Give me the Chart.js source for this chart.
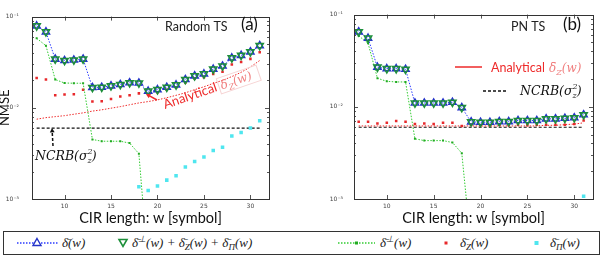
<!DOCTYPE html>
<html>
<head>
<meta charset="utf-8">
<script src="https://cdn.jsdelivr.net/npm/chart.js@4.4.1/dist/chart.umd.min.js"></script>
<style>
  body { margin: 0; background: #fff; }
  #wrap { position: relative; width: 603px; height: 256px; overflow: hidden; }
  canvas { position: absolute; top: 0; }
  #left { left: 0; }
  #right { left: 300px; }
  #legend { position: absolute; left: 0; top: 226px; }
  #legend text { font-family: "Liberation Serif", serif; font-size: 13px; font-style: italic; fill: #222; }
</style>
</head>
<body>
<div id="wrap">
  <canvas id="left" width="300" height="226"></canvas>
  <canvas id="right" width="303" height="226"></canvas>
  <svg id="legend" width="603" height="30">
    <rect x="3.5" y="5.5" width="596" height="23" fill="none" stroke="#333" stroke-width="1"/>
    <line x1="17" y1="17" x2="58" y2="17" stroke="#2b3bff" stroke-width="1.5" stroke-dasharray="1.5 1.5"/>
    <polygon points="37,12.5 41,19.5 33,19.5" fill="#fff" stroke="#2433c8" stroke-width="1.4"/>
    <text x="62" y="21">δ̄(w)</text>
    <polygon points="119,13.5 127,13.5 123,20.5" fill="none" stroke="#1d8f3a" stroke-width="1.6"/>
    <text x="132" y="21">δ̄<tspan dy="-5" font-size="9">⊥</tspan><tspan dy="5">(w) + δ̄</tspan><tspan dy="3" font-size="9">Z</tspan><tspan dy="-3">(w) + δ̄</tspan><tspan dy="3" font-size="9">Π</tspan><tspan dy="-3">(w)</tspan></text>
    <line x1="338" y1="17" x2="375" y2="17" stroke="#33cc33" stroke-width="1.5" stroke-dasharray="1.5 1.5"/>
    <rect x="355" y="15.5" width="3" height="3" fill="#22aa22"/>
    <text x="380" y="21">δ̄<tspan dy="-5" font-size="9">⊥</tspan><tspan dy="5">(w)</tspan></text>
    <rect x="444.5" y="15.5" width="3" height="3" fill="#e8282b"/>
    <text x="460" y="21">δ̄<tspan dy="3" font-size="9">Z</tspan><tspan dy="-3">(w)</tspan></text>
    <rect x="534.5" y="15" width="4" height="4" fill="#4fe6ef"/>
    <text x="550" y="21">δ̄<tspan dy="3" font-size="9">Π</tspan><tspan dy="-3">(w)</tspan></text>
  </svg>
</div>
<script>
// CIR length (symbols)
const cirLength = [7, 8, 9, 10, 11, 12, 13, 14, 15, 16, 17, 18, 19, 20, 21, 22, 23, 24, 25, 26, 27, 28, 29, 30, 31];
const xTicks = [10, 15, 20, 25, 30];
const yTicks = [0.001, 0.01, 0.1];
const yTickText = ['10⁻³', '10⁻²', '10⁻¹'];

// (a) Random TS
const totalRandom = [0.079, 0.068, 0.0342, 0.033, 0.0334, 0.0342, 0.0167, 0.0168, 0.0174, 0.018, 0.0188, 0.0187, 0.0152, 0.0158, 0.0168, 0.0178, 0.0204, 0.0224, 0.0235, 0.0265, 0.0287, 0.0352, 0.0376, 0.041, 0.048];
const sumRandom = [0.079, 0.068, 0.0342, 0.033, 0.0334, 0.0342, 0.0167, 0.0168, 0.0174, 0.018, 0.0188, 0.0187, 0.0152, 0.0158, 0.0168, 0.0178, 0.0204, 0.0224, 0.0235, 0.0265, 0.0287, 0.0352, 0.0376, 0.041, 0.048];
const perpRandom = [0.0578, 0.048, 0.0204, 0.0187, 0.0186, 0.0186, 0.0045, 0.0043, 0.0043, 0.0043, 0.0041, 0.00314, 0.00018, null, null, null, null, null, null, null, null, null, null, null, null];
const zRandom = [0.0212, 0.0204, 0.0137, 0.014, 0.0141, 0.0158, 0.0117, 0.0118, 0.0125, 0.0133, 0.0137, 0.0144, 0.014, 0.0148, 0.0158, 0.0167, 0.019, 0.021, 0.0217, 0.0235, 0.0249, 0.0298, 0.0318, 0.0344, 0.0407];
const piRandom = [null, null, null, null, null, null, null, null, null, null, null, 0.00136, 0.00124, 0.00139, 0.00161, 0.0018, 0.00224, 0.00258, 0.00288, 0.0034, 0.0037, 0.0049, 0.00535, 0.006, 0.0072];
const anaRandom = [0.0075, 0.0078, 0.008, 0.0082, 0.0085, 0.0088, 0.0092, 0.0095, 0.0099, 0.0103, 0.0108, 0.0113, 0.0117, 0.0122, 0.0129, 0.0137, 0.0146, 0.0158, 0.017, 0.0185, 0.02, 0.022, 0.0245, 0.028, 0.033];

// (b) PN TS
const totalPN = [0.065, 0.0555, 0.0269, 0.0259, 0.0259, 0.0255, 0.011, 0.011, 0.011, 0.011, 0.0112, 0.0098, 0.00686, 0.0068, 0.0068, 0.0069, 0.0069, 0.0071, 0.0071, 0.0071, 0.0074, 0.0074, 0.0075, 0.0076, 0.0082];
const sumPN = [0.065, 0.0555, 0.0269, 0.0259, 0.0259, 0.0255, 0.011, 0.011, 0.011, 0.011, 0.0112, 0.0098, 0.00686, 0.0068, 0.0068, 0.0069, 0.0069, 0.0071, 0.0071, 0.0071, 0.0074, 0.0074, 0.0075, 0.0076, 0.0082];
const perpPN = [0.0588, 0.049, 0.0204, 0.0189, 0.0186, 0.0186, 0.0045, 0.0043, 0.0043, 0.0043, 0.0041, 0.00314, 0.0003, null, null, null, null, null, null, null, null, null, null, null, null];
const zPN = [0.0069, 0.0069, 0.0066, 0.0067, 0.007, 0.0069, 0.0065, 0.0066, 0.0065, 0.0067, 0.0067, 0.0062, 0.0064, 0.0063, 0.0063, 0.0064, 0.0063, 0.0064, 0.0063, 0.0064, 0.0064, 0.0064, 0.0064, 0.0065, 0.0071];
const piPN = [null, null, null, null, null, null, null, null, null, null, null, null, null, null, null, null, null, null, null, null, null, null, null, null, 0.00107];
const anaPN = [0.0062, 0.0062, 0.0062, 0.0062, 0.0062, 0.0062, 0.0062, 0.0062, 0.0062, 0.0062, 0.0062, 0.0062, 0.0062, 0.0062, 0.0062, 0.0062, 0.0062, 0.0062, 0.0062, 0.0062, 0.0063, 0.0063, 0.0064, 0.0065, 0.0067];

// NCRB(sigma_z^2) bound, both panels
const ncrbX = [7, 31];
const ncrbY = [0.006, 0.006];

const RED = '#ee2a2a';
const PINK = '#f08080';
const SERIF = '"DejaVu Serif", serif';

function pts(ys) { return cirLength.map((w, i) => ({ x: w, y: ys[i] })); }

function buildDatasets(total, sum, perp, z, pi, ana) {
  return [
    { data: pts(sum), showLine: false, pointStyle: 'triangle', pointRotation: 180, pointRadius: 4.2,
      pointBorderColor: '#1d8f3a', pointBorderWidth: 1.5, pointBackgroundColor: 'rgba(0,0,0,0)' },
    { data: pts(total), borderColor: '#2b3bff', borderWidth: 1, borderDash: [1.5, 1.5],
      pointStyle: 'triangle', pointRadius: 4.2, pointBorderColor: '#2433c8', pointBorderWidth: 1.4,
      pointBackgroundColor: 'rgba(0,0,0,0)' },
    { data: pts(perp), borderColor: '#33cc33', borderWidth: 1, borderDash: [1.5, 1.5],
      pointStyle: 'rect', pointRadius: 1.4, pointBackgroundColor: '#22aa22', pointBorderWidth: 0 },
    { data: pts(z), showLine: false, pointStyle: 'rect', pointRadius: 1.8,
      pointBackgroundColor: '#e8282b', pointBorderWidth: 0 },
    { data: pts(pi), showLine: false, pointStyle: 'rect', pointRadius: 2.5,
      pointBackgroundColor: '#4fe6ef', pointBorderWidth: 0 },
    { data: pts(ana), borderColor: RED, borderWidth: 1, borderDash: [1.5, 1.5], pointRadius: 0 },
    { data: ncrbX.map((w, i) => ({ x: w, y: ncrbY[i] })), borderColor: '#111', borderWidth: 1.2,
      borderDash: [3, 2], pointRadius: 0 }
  ];
}

// draw text runs, returns end x
function runs(ctx, x, y, parts) {
  parts.forEach(p => {
    ctx.font = p.f;
    ctx.fillStyle = p.c;
    ctx.fillText(p.t, x, y + (p.dy || 0));
    if (!p.keep) x += ctx.measureText(p.t).width;
  });
  return x;
}

function deltaZ(ctx, x, y, size, color) {
  const f = `italic ${size}px ${SERIF}`, fs = `italic ${Math.round(size * 0.65)}px ${SERIF}`;
  return runs(ctx, x, y, [
    { t: 'δ̄', f, c: color }, { t: 'Z', f: fs, c: color, dy: 3 }, { t: '(w)', f, c: color }
  ]);
}

function ncrb(ctx, x, y, size) {
  const f = `italic ${size}px ${SERIF}`, fs = `italic ${Math.round(size * 0.62)}px ${SERIF}`;
  return runs(ctx, x, y, [
    { t: 'NCRB(σ', f, c: '#111' }, { t: '2', f: fs, c: '#111', dy: -6, keep: true },
    { t: 'z', f: fs, c: '#111', dy: 3 }, { t: ')', f, c: '#111' }
  ]);
}

function arrow(ctx, x1, y1, x2, y2, color, dash) {
  const a = Math.atan2(y2 - y1, x2 - x1), h = 5;
  ctx.save();
  ctx.strokeStyle = color; ctx.fillStyle = color; ctx.lineWidth = 1.5;
  ctx.setLineDash(dash || []);
  ctx.beginPath(); ctx.moveTo(x1, y1); ctx.lineTo(x2 - Math.cos(a) * 3, y2 - Math.sin(a) * 3); ctx.stroke();
  ctx.setLineDash([]);
  ctx.beginPath();
  ctx.moveTo(x2, y2);
  ctx.lineTo(x2 - h * Math.cos(a - 0.5), y2 - h * Math.sin(a - 0.5));
  ctx.lineTo(x2 - h * Math.cos(a + 0.5), y2 - h * Math.sin(a + 0.5));
  ctx.closePath(); ctx.fill();
  ctx.restore();
}

const notes = {
  left(ctx) {
    runs(ctx, 165, 30.5, [{ t: 'Random TS', f: '12.5px Lato', c: '#222' }]);
    runs(ctx, 241, 30, [{ t: '(a)', f: '17px Lato', c: '#111' }]);
    ctx.save();
    ctx.translate(165, 109);
    ctx.rotate(-0.33);
    let x = runs(ctx, 0, 0, [{ t: 'Analytical ', f: '13px Lato', c: RED }]);
    ctx.strokeStyle = '#f6d4d4'; ctx.lineWidth = 1;
    ctx.strokeRect(x - 1, -12, 42, 16);
    deltaZ(ctx, x + 1, 0, 12, PINK);
    ctx.restore();
    arrow(ctx, 157, 100, 146, 94, RED);
    ncrb(ctx, 35, 160, 12.5);
    arrow(ctx, 53, 146, 52, 128, '#111', [3, 2]);
  },
  right(ctx) {
    runs(ctx, 211, 30.5, [{ t: 'PN TS', f: '12.5px Lato', c: '#222' }]);
    runs(ctx, 263, 30, [{ t: '(b)', f: '17px Lato', c: '#111' }]);
    ctx.save();
    ctx.strokeStyle = RED; ctx.lineWidth = 1.5;
    ctx.beginPath(); ctx.moveTo(155, 67); ctx.lineTo(182, 67); ctx.stroke();
    ctx.strokeStyle = '#111'; ctx.lineWidth = 1.3; ctx.setLineDash([3, 2]);
    ctx.beginPath(); ctx.moveTo(183, 91); ctx.lineTo(208, 91); ctx.stroke();
    ctx.restore();
    const x = runs(ctx, 191, 71.5, [{ t: 'Analytical ', f: '12.5px Lato', c: RED }]);
    deltaZ(ctx, x + 1, 71.5, 12, PINK);
    ncrb(ctx, 220, 95, 12.5);
  }
};

// MATLAB-like box with inward ticks, plus panel annotations
const frame = {
  id: 'frame',
  afterDatasetsDraw(chart) {
    const { ctx, chartArea: a, scales: { x, y } } = chart;
    ctx.save();
    ctx.strokeStyle = '#555';
    ctx.lineWidth = 1;
    ctx.beginPath();
    xTicks.forEach(v => {
      const px = Math.round(x.getPixelForValue(v)) + 0.5;
      ctx.moveTo(px, a.bottom); ctx.lineTo(px, a.bottom - 4);
      ctx.moveTo(px, a.top); ctx.lineTo(px, a.top + 4);
    });
    [0.001, 0.01].forEach(d => {
      for (let m = 1; m <= 10; m++) {
        const py = Math.round(y.getPixelForValue(m * d)) + 0.5;
        const len = (m === 1 || m === 10) ? 4 : 2;
        ctx.moveTo(a.left, py); ctx.lineTo(a.left + len, py);
        ctx.moveTo(a.right, py); ctx.lineTo(a.right - len, py);
      }
    });
    ctx.stroke();
    ctx.strokeStyle = '#333';
    ctx.strokeRect(Math.round(a.left) + 0.5, Math.round(a.top) + 0.5,
      Math.round(a.right - a.left), Math.round(a.bottom - a.top));
    ctx.restore();
    notes[chart.canvas.id](ctx);
  }
};

function makeChart(id, sets, yWidth, yPad, padRight, withTitle) {
  new Chart(document.getElementById(id), {
    type: 'line',
    data: { datasets: sets },
    plugins: [frame],
    options: {
      responsive: false,
      animation: false,
      events: [],
      layout: { padding: { left: 0, top: 6, right: padRight, bottom: 0 } },
      plugins: { legend: { display: false }, tooltip: { enabled: false } },
      elements: { line: { tension: 0 } },
      scales: {
        x: {
          type: 'linear', min: 6.5, max: 32,
          grid: { display: false, drawTicks: false }, border: { display: false },
          afterBuildTicks: s => { s.ticks = xTicks.map(v => ({ value: v })); },
          afterFit: s => { s.height = 27; },
          ticks: { padding: 4, font: { size: 6, family: 'DejaVu Sans' }, color: '#444' },
          title: { display: true, text: 'CIR length: w [symbol]', color: '#111',
            font: { size: 14.5, family: 'Lato', lineHeight: 1.1 }, padding: 0 }
        },
        y: {
          type: 'logarithmic', min: 0.001, max: 0.1,
          grid: { display: false, drawTicks: false }, border: { display: false },
          afterBuildTicks: s => { s.ticks = yTicks.map(v => ({ value: v })); },
          afterFit: s => { s.width = yWidth; },
          ticks: { padding: yPad, autoSkip: false, font: { size: 6, family: 'DejaVu Sans' }, color: '#444',
            callback: (v) => yTickText[yTicks.findIndex(t => Math.abs(t - v) < t * 1e-6)] || '' },
          title: { display: withTitle, text: 'NMSE', color: '#111',
            font: { size: 13, family: 'Lato', lineHeight: 1 }, padding: { top: -1.5, bottom: 0 } }
        }
      }
    }
  });
}

makeChart('left', buildDatasets(totalRandom, sumRandom, perpRandom, zRandom, piRandom, anaRandom), 32, 13, 31, true);
makeChart('right', buildDatasets(totalPN, sumPN, perpPN, zPN, piPN, anaPN), 54, 11, 10, false);
</script>
</body>
</html>
